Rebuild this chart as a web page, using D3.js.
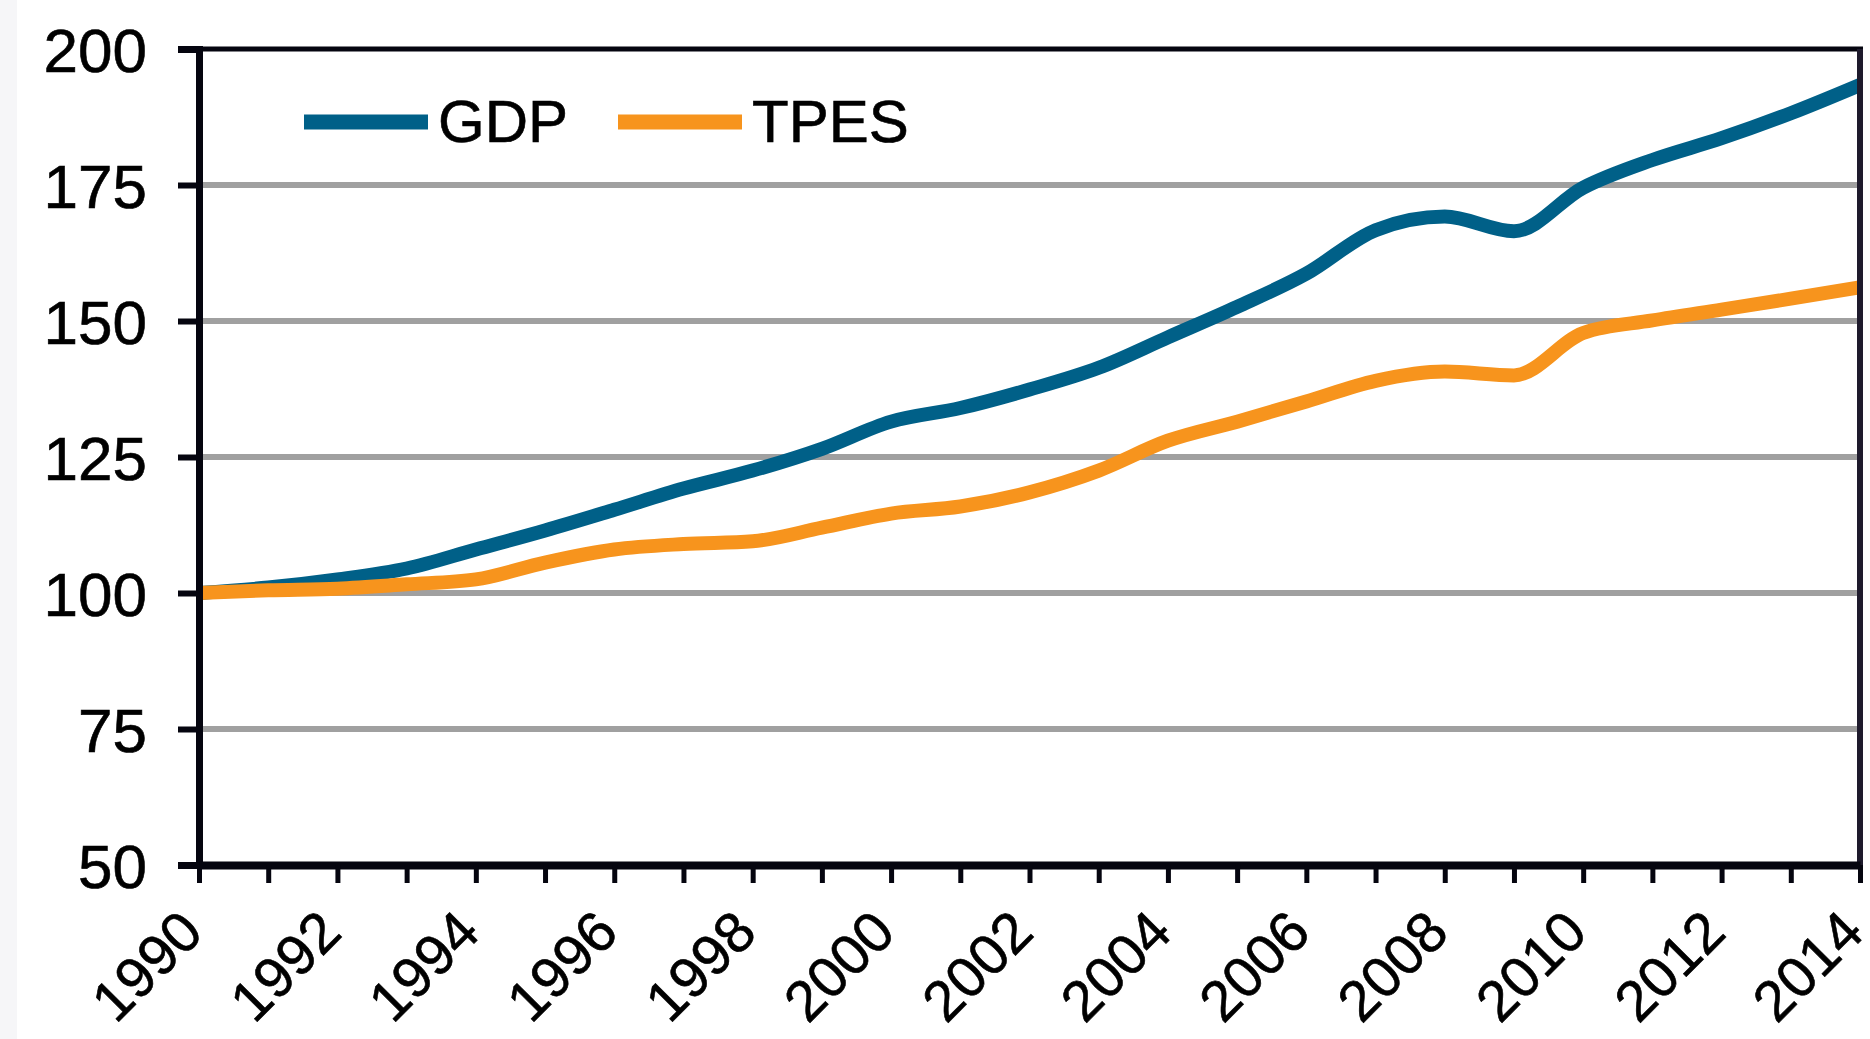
<!DOCTYPE html>
<head>
  <meta charset="utf-8">
  <script src="https://d3js.org/d3.v7.min.js"></script>
  <style>
    body { margin: 0; background: #fff; }
    text { font-family: "Liberation Sans", Arial, sans-serif; fill: #000; stroke: #000; stroke-width: 0.6px; }
  </style>
</head>
<body>
<div id="vis"></div>
<script>
// index 1990 = 100
const years = d3.range(1990, 2015)
const gdp = [100, 101, 102.5, 104.5, 108, 111.5, 115.3, 119.2, 122.5, 126.5, 131.5, 134, 137.4, 141.4, 147,
  152.6, 158.7, 166.7, 169.2, 166.5, 174.5, 179.6, 183.6, 188.2, 193.4]
const tpes = [100, 100.5, 100.8, 101.6, 102.5, 105.6, 108, 109, 109.5, 112, 114.6, 115.9, 118.5, 122.5, 128,
  131.5, 135.2, 139, 140.7, 140, 147.8, 150.1, 152.1, 154.1, 156.2]
const yTicks = [50, 75, 100, 125, 150, 175, 200]
const xLabels = d3.range(1990, 2015, 2)
const seriesNames = ['GDP', 'TPES']
const colours = ['#006088', '#f7941d']

const width = 1870
const height = 1039
const margin = { top: 49, right: 10, bottom: 174, left: 199 }

const svg = d3.select('#vis').append('svg')
  .attr('width', width)
  .attr('height', height)

// faint grey strip on the left edge of the original picture
svg.append('rect').attr('x', 0).attr('y', 0).attr('width', 17).attr('height', height).attr('fill', '#f6f6f8')

const x = d3.scaleLinear().domain([1990, 2014]).range([margin.left, width - margin.right])
const y = d3.scaleLinear().domain([50, 200]).range([height - margin.bottom, margin.top])

// gridlines
svg.append('g')
  .selectAll('line')
  .data(yTicks.filter(d => d > 50 && d < 200))
  .enter().append('line')
  .attr('x1', x(1990)).attr('x2', x(2014))
  .attr('y1', d => y(d)).attr('y2', d => y(d))
  .attr('stroke', '#a0a0a0')
  .attr('stroke-width', 6)

// lines
const line = d3.line()
  .x((d, i) => x(years[i]))
  .y(d => y(d))
  .curve(d3.curveMonotoneX)

const series = [gdp, tpes]
series.forEach((s, i) => {
  svg.append('path')
    .datum(s)
    .attr('fill', 'none')
    .attr('stroke', colours[i])
    .attr('stroke-width', 14)
    .attr('d', line)
})

// frame top & right
svg.append('line')
  .attr('x1', x(1990) - 21).attr('x2', x(2014) + 3)
  .attr('y1', y(200)).attr('y2', y(200))
  .attr('stroke', '#05050f').attr('stroke-width', 5)
svg.append('line')
  .attr('x1', x(2014)).attr('x2', x(2014))
  .attr('y1', y(200)).attr('y2', y(50))
  .attr('stroke', '#1e1a2c').attr('stroke-width', 6)

// y axis
const yAxis = svg.append('g')
  .attr('transform', `translate(${margin.left},0)`)
  .call(d3.axisLeft(y).tickValues(yTicks).tickSize(21).tickPadding(31))
yAxis.select('.domain').attr('stroke', '#05050f').attr('stroke-width', 7)
yAxis.selectAll('.tick line').attr('stroke', '#05050f').attr('stroke-width', 6)
yAxis.selectAll('text').style('font-size', '62px').attr('dy', '0.36em')

// x axis
const xAxis = svg.append('g')
  .attr('transform', `translate(0,${height - margin.bottom})`)
  .call(d3.axisBottom(x).tickValues(years).tickSize(18).tickSizeOuter(0)
    .tickFormat(d => xLabels.includes(d) ? d : ''))
xAxis.select('.domain').attr('stroke', '#05050f').attr('stroke-width', 8)
xAxis.selectAll('.tick line').attr('stroke', '#05050f').attr('stroke-width', 5)
xAxis.selectAll('text')
  .style('font-size', '57px')
  .style('text-anchor', 'end')
  .attr('x', 0).attr('y', 0).attr('dy', 0)
  .attr('transform', 'translate(6,70) rotate(-45)')

// legend
const legendX = [304, 618]
const legend = svg.append('g')
seriesNames.forEach((name, i) => {
  legend.append('line')
    .attr('x1', legendX[i]).attr('x2', legendX[i] + 124)
    .attr('y1', 122).attr('y2', 122)
    .attr('stroke', colours[i]).attr('stroke-width', 15)
  legend.append('text')
    .attr('x', legendX[i] + 134).attr('y', 142)
    .style('font-size', '60px')
    .text(name)
})
</script>
</body>
